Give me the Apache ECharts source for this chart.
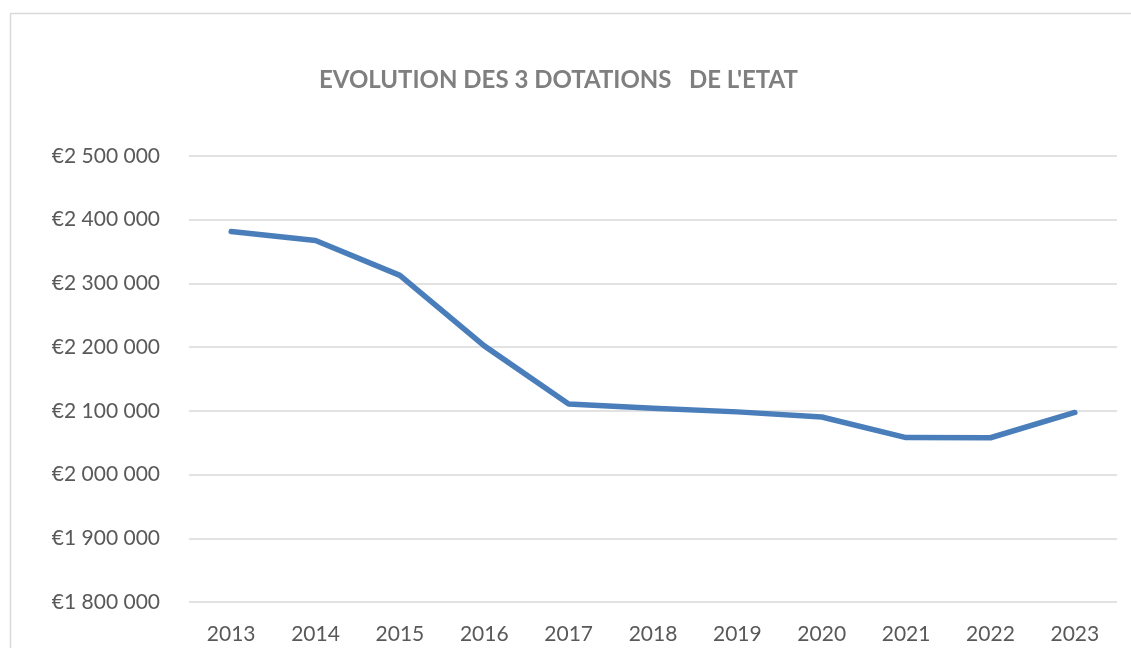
<!DOCTYPE html>
<html>
<head>
<meta charset="utf-8">
<script src="https://cdn.jsdelivr.net/npm/echarts@6/dist/echarts.min.js"></script>
<style>
html,body{margin:0;padding:0;background:#fff;}
#chart{width:1131px;height:648px;}
</style>
</head>
<body>
<div id="chart"></div>
<script>
const titleText = "EVOLUTION DES 3 DOTATIONS   DE L'ETAT";
const years = ["2013","2014","2015","2016","2017","2018","2019","2020","2021","2022","2023"];
const dotations = [2381600, 2367500, 2312600, 2202000, 2110700, 2104000, 2098400, 2090400, 2058000, 2057800, 2097500];
const yMin = 1800000, yMax = 2500000, yStep = 100000;

function fmt(v){
  const s = String(Math.round(v));
  return "€" + s.replace(/\B(?=(\d{3})+(?!\d))/g, " ");
}

const chart = echarts.init(document.getElementById('chart'), null, {renderer:'canvas'});
chart.setOption({
  animation:false,
  backgroundColor:'#ffffff',
  graphic:[{
    type:'rect', silent:true,
    shape:{x:10.5,y:13.5,width:1300,height:800},
    style:{fill:'none',stroke:'#d9d9d9',lineWidth:1.5}
  }],
  title:{
    text:titleText, left:314, top:63,
    textStyle:{fontFamily:'Lato',fontSize:24,fontWeight:'bold',color:'#7f7f7f'}
  },
  grid:{left:189,right:14,top:156,bottom:46,containLabel:false},
  xAxis:{
    type:'category', data:years, boundaryGap:true,
    axisLine:{show:false}, axisTick:{show:false},
    axisLabel:{fontFamily:'Lato',fontSize:21,color:'#595959',margin:22}
  },
  yAxis:{
    type:'value', min:yMin, max:yMax, interval:yStep,
    axisLine:{show:false}, axisTick:{show:false},
    splitLine:{lineStyle:{color:'#d9d9d9',width:1.5}},
    axisLabel:{fontFamily:'Lato',fontSize:21,color:'#595959',margin:29,formatter:fmt}
  },
  series:[{
    type:'line', data:dotations, symbol:'none',
    lineStyle:{color:'#4a7ebb',width:5.5,cap:'round',join:'round'}
  }]
});
</script>
</body>
</html>
